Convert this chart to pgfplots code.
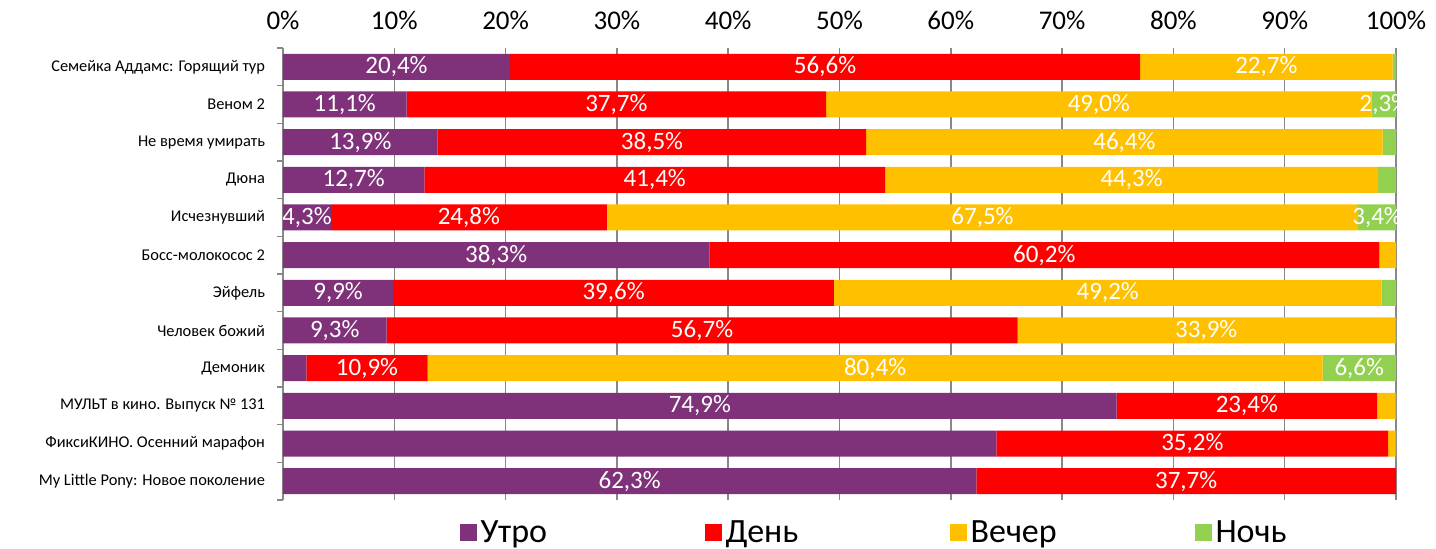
\documentclass[border=0pt]{standalone}
\usepackage{pgfplots}
\pgfplotsset{compat=1.18}
\usepackage{fontspec}
\setmainfont{Carlito}
\definecolor{cM}{HTML}{7F3279}
\definecolor{cD}{HTML}{FF0000}
\definecolor{cE}{HTML}{FFC000}
\definecolor{cN}{HTML}{92D050}
\definecolor{gridc}{HTML}{888888}
\begin{document}
\begin{tikzpicture}
\begin{axis}[
  at={(0,0)}, anchor=south west,
  scale only axis,
  width=556.5bp, height=226bp,
  xbar stacked,
  bar width=13bp,
  xmin=0, xmax=100,
  ymin=-0.5, ymax=11.5,
  axis x line*=top,
  axis y line*=left,
  x axis line style={draw=none},
  y axis line style={gridc, line width=0.75bp},
  xtick={0,10,...,100},
  xticklabels={0\%,10\%,20\%,30\%,40\%,50\%,60\%,70\%,80\%,90\%,100\%},
  xticklabel style={font=\fontsize{13.5bp}{16bp}\selectfont, yshift=5.5bp},
  xmajorgrids,
  major grid style={gridc, line width=0.75bp},
  ytick={0,...,11},
  yticklabels={My Little Pony: Новое поколение, ФиксиКИНО. Осенний марафон, МУЛЬТ в кино. Выпуск № 131, Демоник, Человек божий, Эйфель, Босс-молокосос 2, Исчезнувший, Дюна, Не время умирать, Веном 2, Семейка Аддамс: Горящий тур},
  yticklabel style={font=\fontsize{8.2bp}{10bp}\selectfont, xshift=-5.5bp},
  minor ytick={-0.5,0.5,...,11.5},
  major tick length=0pt,
  minor tick length=3bp,
  tick align=outside,
  minor tick style={gridc, line width=0.75bp},
  legend columns=4,
  legend style={at={(0.153,-0.073)}, anchor=west, draw=none, fill=none, font=\fontsize{17bp}{20bp}\selectfont,
    /tikz/every even column/.append style={column sep=15bp}},
  legend image code/.code={\fill[#1] (0bp,-4.25bp) rectangle (8.5bp,4.25bp);},
  legend cell align=left,
]
\addplot[fill=cM, draw=none] coordinates {
 (20.4,11) (11.1,10) (13.9,9) (12.7,8) (4.3,7) (38.3,6)
 (9.9,5) (9.3,4) (2.1,3) (74.9,2) (64.1,1) (62.3,0)
};
\addlegendentry{\makebox[95bp][l]{Утро}}
\addplot[fill=cD, draw=none] coordinates {
 (56.6,11) (37.7,10) (38.5,9) (41.4,8) (24.8,7) (60.2,6)
 (39.6,5) (56.7,4) (10.9,3) (23.4,2) (35.2,1) (37.7,0)
};
\addlegendentry{\makebox[95bp][l]{День}}
\addplot[fill=cE, draw=none] coordinates {
 (22.7,11) (49.0,10) (46.4,9) (44.3,8) (67.5,7) (1.5,6)
 (49.2,5) (33.9,4) (80.4,3) (1.6,2) (0.6,1) (0,0)
};
\addlegendentry{\makebox[95bp][l]{Вечер}}
\addplot[fill=cN, draw=none] coordinates {
 (0.3,11) (2.3,10) (1.2,9) (1.6,8) (3.4,7) (0,6)
 (1.3,5) (0.1,4) (6.6,3) (0.1,2) (0.1,1) (0,0)
};
\addlegendentry{\makebox[95bp][l]{Ночь}}
\end{axis}
\begin{scope}
\clip (0,0) rectangle (556.5bp,226bp);
\begin{axis}[
  at={(0,0)}, anchor=south west,
  scale only axis,
  width=556.5bp, height=226bp,
  xmin=0, xmax=100,
  ymin=-0.5, ymax=11.5,
  hide axis,
  clip=false,
  point meta=explicit symbolic,
  nodes near coords,
  nodes near coords style={font=\fontsize{12.5bp}{14bp}\selectfont, text=white, anchor=center, inner sep=0pt},
]
\addplot[only marks, mark=none] coordinates {
 (10.2,11) [{20,4\%}]  (48.7,11) [{56,6\%}]  (88.35,11) [{22,7\%}]
 (5.55,10) [{11,1\%}]  (29.95,10) [{37,7\%}] (73.3,10) [{49,0\%}] (98.95,10) [{2,3\%}]
 (6.95,9) [{13,9\%}]   (33.15,9) [{38,5\%}]  (75.6,9) [{46,4\%}]
 (6.35,8) [{12,7\%}]   (33.4,8) [{41,4\%}]   (76.25,8) [{44,3\%}]
 (2.15,7) [{4,3\%}]    (16.7,7) [{24,8\%}]   (62.85,7) [{67,5\%}] (98.3,7) [{3,4\%}]
 (19.15,6) [{38,3\%}]  (68.4,6) [{60,2\%}]
 (4.95,5) [{9,9\%}]    (29.7,5) [{39,6\%}]   (74.1,5) [{49,2\%}]
 (4.65,4) [{9,3\%}]    (37.65,4) [{56,7\%}]  (82.95,4) [{33,9\%}]
 (7.55,3) [{10,9\%}]   (53.2,3) [{80,4\%}]   (96.7,3) [{6,6\%}]
 (37.45,2) [{74,9\%}]  (86.6,2) [{23,4\%}]
 (81.7,1) [{35,2\%}]
 (31.15,0) [{62,3\%}]  (81.15,0) [{37,7\%}]
};
\end{axis}
\end{scope}
\pgfresetboundingbox
\path[use as bounding box] (-141.5bp,-24.5bp) rectangle (576.5bp,250bp);
\end{tikzpicture}
\end{document}
